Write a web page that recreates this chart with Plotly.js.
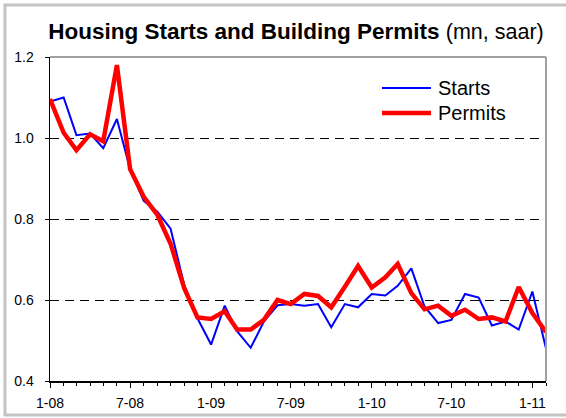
<!DOCTYPE html>
<html>
<head>
<meta charset="utf-8">
<script src="https://cdn.plot.ly/plotly-3.0.1.min.js"></script>
<style>
  html, body { margin: 0; padding: 0; background: #ffffff; }
  #chart { width: 566px; height: 418px; }
</style>
</head>
<body>
<div id="chart"></div>
<script>
// Months: Jan 2008 .. Feb 2011
var months = [];
for (var y = 2008; y <= 2011; y++) {
  for (var m = 1; m <= 12; m++) {
    if (y === 2011 && m > 2) break;
    months.push(y + '-' + (m < 10 ? '0' + m : m) + '-01');
  }
}

// Housing starts (mn, saar)
var starts = [1.09, 1.10, 1.007, 1.011, 0.975, 1.047, 0.923, 0.845, 0.818, 0.776,
              0.637, 0.555, 0.49, 0.586, 0.523, 0.482, 0.547, 0.587, 0.59, 0.586,
              0.59, 0.533, 0.59, 0.582, 0.615, 0.611, 0.635, 0.678, 0.584, 0.543,
              0.551, 0.615, 0.606, 0.537, 0.547, 0.527, 0.621, 0.48];

// Building permits (mn, saar)
var permits = [1.096, 1.013, 0.970, 1.009, 0.992, 1.18, 0.923, 0.855, 0.81, 0.739,
               0.629, 0.557, 0.553, 0.572, 0.527, 0.527, 0.551, 0.60, 0.59, 0.615,
               0.61, 0.582, 0.633, 0.684, 0.631, 0.656, 0.689, 0.617, 0.577, 0.586,
               0.561, 0.576, 0.553, 0.557, 0.547, 0.632, 0.568, 0.521];

var tickDates = ['2008-01-01', '2008-07-01', '2009-01-01', '2009-07-01', '2010-01-01', '2010-07-01', '2011-01-01'];
var tickLabels = ['1-08', '7-08', '1-09', '7-09', '1-10', '7-10', '1-11'];
var yTicks = [0.4, 0.6, 0.8, 1.0, 1.2];
var yTickLabels = ['0.4', '0.6', '0.8', '1.0', '1.2'];
var seriesNames = ['Starts', 'Permits'];
var seriesColors = ['#0000ff', '#ff0000'];

var FONT = 'Liberation Sans, Arial, sans-serif';

var traces = [
  { x: months, y: starts, type: 'scatter', mode: 'lines', name: seriesNames[0],
    line: { color: seriesColors[0], width: 2 }, showlegend: false },
  { x: months, y: permits, type: 'scatter', mode: 'lines', name: seriesNames[1],
    line: { color: seriesColors[1], width: 4.5 }, showlegend: false }
];

// pixel -> paper helpers (plot area: x 50..546, y 57..381)
var L = 50, R = 20, T = 57, B = 37, W = 566, H = 418;
var PW = W - L - R, PH = H - T - B;
function px(X) { return (X - L) / PW; }
function py(Y) { return (H - B - Y) / PH; }

var shapes = [
  // outer frame
  { type: 'rect', xref: 'paper', yref: 'paper', x0: px(5), x1: px(580), y0: py(415), y1: py(5),
    line: { color: '#c4c4c4', width: 3 }, fillcolor: 'rgba(0,0,0,0)', layer: 'below' },
  // top and right plot borders (gray)
  { type: 'line', xref: 'paper', yref: 'paper', x0: 0, x1: 1, y0: 1, y1: 1,
    line: { color: '#a0a0a0', width: 2 } },
  { type: 'line', xref: 'paper', yref: 'paper', x0: 1, x1: 1, y0: 0, y1: 1,
    line: { color: '#a0a0a0', width: 2 } },
  // legend lines
  { type: 'line', xref: 'paper', yref: 'paper', x0: px(382), x1: px(431), y0: py(88), y1: py(88),
    line: { color: seriesColors[0], width: 2 } },
  { type: 'line', xref: 'paper', yref: 'paper', x0: px(382), x1: px(431), y0: py(113), y1: py(113),
    line: { color: seriesColors[1], width: 4.5 } }
];

var annotations = [
  { xref: 'paper', yref: 'paper', x: px(436), y: py(88), xanchor: 'left', yanchor: 'middle',
    text: seriesNames[0], showarrow: false, font: { family: FONT, size: 20, color: '#000' } },
  { xref: 'paper', yref: 'paper', x: px(436), y: py(113), xanchor: 'left', yanchor: 'middle',
    text: seriesNames[1], showarrow: false, font: { family: FONT, size: 20, color: '#000' } }
];

var layout = {
  width: W, height: H,
  margin: { l: L, r: R, t: T, b: B },
  paper_bgcolor: '#ffffff', plot_bgcolor: '#ffffff',
  font: { family: FONT, color: '#000000' },
  title: {
    text: '<b>Housing Starts and Building Permits</b> <span style="font-size:21.5px">(mn, saar)</span>',
    font: { family: FONT, size: 22.5, color: '#000000' },
    x: 296 / W, xanchor: 'center', xref: 'container',
    y: 1 - 31 / H, yanchor: 'middle', yref: 'container'
  },
  showlegend: false,
  xaxis: {
    type: 'date',
    range: [months[0], months[months.length - 1]],
    tickmode: 'array', tickvals: tickDates, ticktext: tickLabels,
    ticks: 'outside', ticklen: 5, tickwidth: 1, tickcolor: '#000',
    minor: { dtick: 'M1', ticks: 'outside', ticklen: 3, tickcolor: '#000', showgrid: false },
    showline: true, linecolor: '#000', linewidth: 1.5,
    showgrid: false, zeroline: false,
    tickfont: { family: FONT, size: 14, color: '#000' },
    ticklabelstandoff: 4
  },
  yaxis: {
    range: [0.4, 1.2],
    tickmode: 'array', tickvals: yTicks, ticktext: yTickLabels,
    ticks: 'outside', ticklen: 4, tickwidth: 1, tickcolor: '#000',
    showline: true, linecolor: '#000', linewidth: 1.5,
    showgrid: true, gridcolor: '#000', gridwidth: 1, griddash: '9px,6px',
    zeroline: false,
    tickfont: { family: FONT, size: 14, color: '#000' },
    ticklabelstandoff: 8
  },
  shapes: shapes,
  annotations: annotations
};

Plotly.newPlot('chart', traces, layout, { staticPlot: true, displayModeBar: false });
</script>
</body>
</html>
